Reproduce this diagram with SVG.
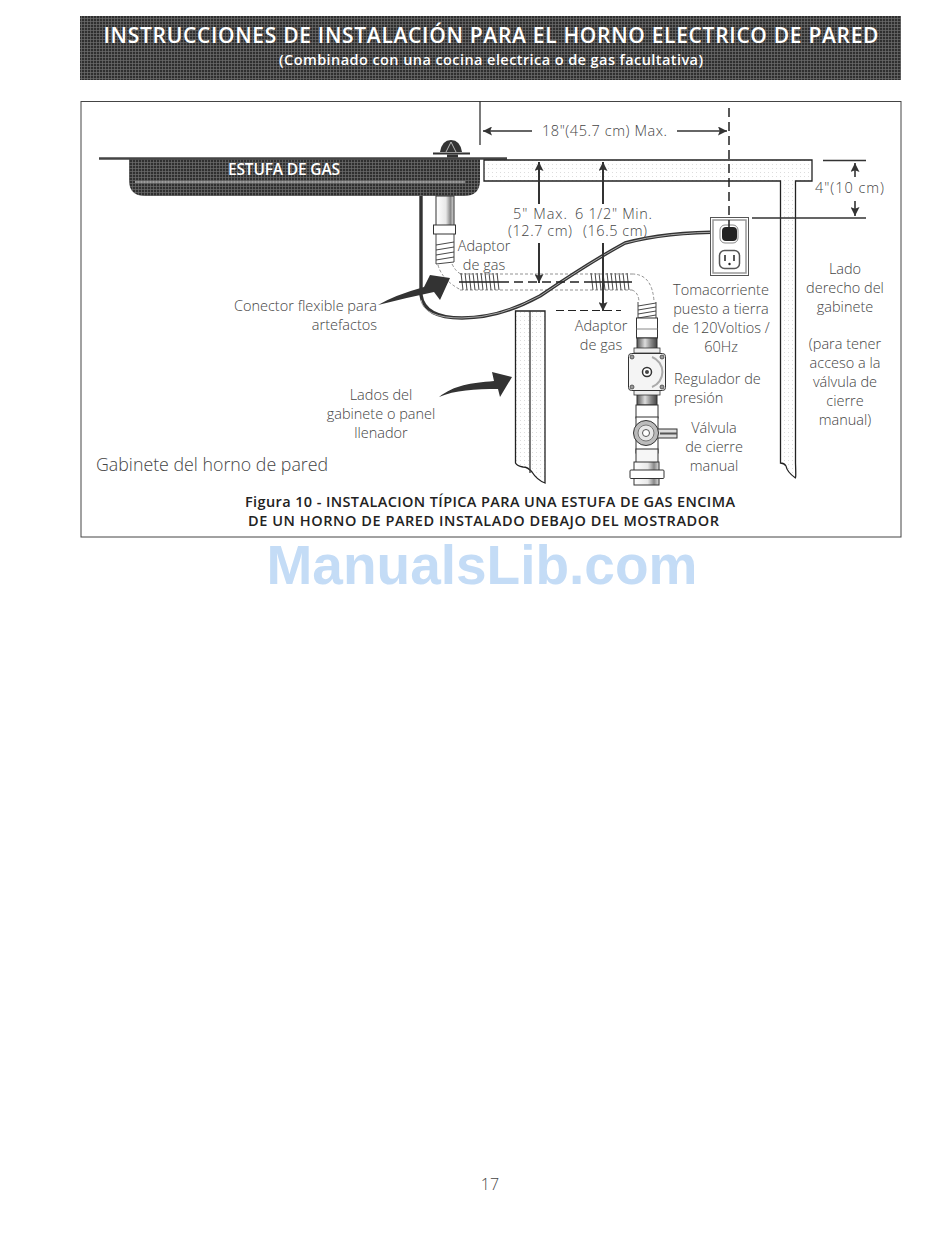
<svg xmlns="http://www.w3.org/2000/svg" width="950" height="1234" viewBox="0 0 950 1234">
<style>
text{font-family:"Open Sans","Noto Sans","Liberation Sans",sans-serif;font-weight:300;fill:#444;font-size:14.5px}
.m{text-anchor:middle}.e{text-anchor:end}
.b{font-weight:600;fill:#222}
.w{font-weight:600;fill:#fff}
.ln{fill:none;stroke:#333;stroke-width:1.3}
.th{fill:none;stroke:#333;stroke-width:.9}
.dim{fill:none;stroke:#333;stroke-width:1.6}
.dim2{fill:none;stroke:#333;stroke-width:2}
.dash{fill:none;stroke:#222;stroke-width:1.5;stroke-dasharray:9 5}
.thin{fill:none;stroke:#777;stroke-width:.8;stroke-dasharray:3 2}
.cab{fill:url(#dots);stroke:#222;stroke-width:1.3}
.bolt{fill:#999;stroke:#333;stroke-width:.7}
</style>
<defs>
<pattern id="grid" width="3" height="3" patternUnits="userSpaceOnUse"><rect width="3" height="3" fill="#2f2f2f"/><path d="M0 .5H3M.5 0V3" stroke="#6e6e6e" stroke-width=".7"/></pattern>
<pattern id="dots" width="4" height="4" patternUnits="userSpaceOnUse"><rect width="4" height="4" fill="#fff"/><rect width="1" height="1" fill="#ddd"/></pattern>
<linearGradient id="metal" x1="0" x2="1" y1="0" y2="0"><stop offset="0" stop-color="#fff"/><stop offset=".55" stop-color="#e8e8e8"/><stop offset=".8" stop-color="#888"/><stop offset="1" stop-color="#ddd"/></linearGradient>
<linearGradient id="metal2" x1="0" x2="1" y1="0" y2="0"><stop offset="0" stop-color="#555"/><stop offset=".4" stop-color="#ddd"/><stop offset=".7" stop-color="#888"/><stop offset="1" stop-color="#444"/></linearGradient>
<marker id="ah" viewBox="0 0 10 10" refX="10" refY="5" markerWidth="11" markerHeight="9" markerUnits="userSpaceOnUse" orient="auto"><path d="M0 0L10 5L0 10L2 5Z" fill="#333"/></marker>
</defs>
<rect width="950" height="1234" fill="#fff"/>

<g id="header">
<rect x="80" y="16" width="821" height="64" fill="url(#grid)"/>
<text class="w" x="491" y="43" text-anchor="middle" style="font-size:21px" textLength="775" lengthAdjust="spacing">INSTRUCCIONES DE INSTALACIÓN PARA EL HORNO ELECTRICO DE PARED</text>
<text class="w" x="491" y="65" text-anchor="middle" style="font-size:14.5px" textLength="424" lengthAdjust="spacing">(Combinado con una cocina electrica o de gas facultativa)</text>
</g>
<rect id="frame" x="81" y="101.5" width="820" height="435.5" fill="#fff" stroke="#444" stroke-width="1"/>

<g id="stove">
<path d="M129 158V180Q129 196 145 196H464Q480 196 480 180V158Z" fill="url(#grid)"/>
<path d="M99 158.500H507" stroke="#444" stroke-width="2.500" fill="none"/>
<path d="M135 182H465" stroke="#ddd" stroke-width="1.200"/>
<path d="M440 152Q442 140 451 140Q460 140 462 152Z" fill="#333"/>
<path d="M451 142L446 152M451 142L456 152" stroke="#ddd" stroke-width=".8"/>
<path d="M433 153.500H470" stroke="#333" stroke-width="2"/>
<path d="M447 156H458" stroke="#333" stroke-width="3"/>
<text class="w" x="284" y="175" text-anchor="middle" style="font-size:15.500px" textLength="112" lengthAdjust="spacing">ESTUFA DE GAS</text>
</g>

<g id="counter">
<path class="cab" d="M484 160H812V181H795.500V463Q796 478 795.500 478Q787 472 786 466Q784 463 780.500 463V181H484Z"/>
</g>

<g id="cabinet-side">
<path class="cab" d="M515.500 311H545V483Q537 480 532 472Q528 467 523 467Q517 466 515.500 463Z"/>
<path class="ln" d="M530 311V473"/>
</g>

<g id="gas-supply">
<rect x="436" y="196" width="18" height="30" fill="url(#metal)" stroke="#333"/>
<rect x="433.500" y="225" width="22" height="9" fill="#fff" stroke="#333"/>
<path class="th" d="M436 234V264M454 234V262M436 245L454 242M436 250L454 247M436 255L454 252M436 260L454 257M436 264L454 262"/>
<path class="thin" d="M438 265Q442 280 461 290M452 264Q456 272 461 274M632 274Q652 274 654 301M632 290Q638 292 639 301"/>
<path class="thin" d="M460 274H632M460 290H632"/>
<path class="th" d="M461 273L463 290M465 273L467 290M469 273L471 290M473 273L475 290M477 273L479 290M481 273L483 290M485 273L487 290M489 273L491 290M493 273L495 290M497 273L499 290M591 273L593 290M595 273L597 290M599 273L601 290M603 273L605 290M607 273L609 290M611 273L613 290M615 273L617 290M619 273L621 290M623 273L625 290M627 273L629 290"/>
<path d="M459 282H500M590 282H632" stroke="#222" stroke-width="1.500"/>
<path class="th" d="M638 302V319M656 302V319M638 306L656 303M638 310L656 307M638 314L656 311M638 318L656 315"/>
<rect x="636.500" y="318" width="21" height="20" fill="#fff" stroke="#333"/>
<path d="M636.500 329H657.500" stroke="#888"/>
</g>

<g id="flex-connector">
<path d="M421 196V295Q424 318 462 318Q500 318 540 296Q590 262 625 243Q665 232 726 232" fill="none" stroke="#333" stroke-width="3.400"/>
<path d="M421 300Q424 318 462 318Q500 318 540 296Q590 262 625 243Q665 232 726 232" fill="none" stroke="#aaa" stroke-width="1"/>
</g>

<g id="outlet">
<rect x="710.500" y="217.500" width="38" height="58" fill="#fff" stroke="#555"/>
<rect x="713" y="220" width="33" height="53" fill="#fff" stroke="#999" stroke-width="1.500"/>
<rect x="720" y="225" width="18" height="18" rx="5" fill="#fff" stroke="#888"/>
<rect x="722" y="227" width="15" height="14" rx="4" fill="#222"/>
<rect x="719.500" y="250.500" width="20" height="18" rx="5" fill="#fff" stroke="#555" stroke-width="1.500"/>
<path d="M725 255V261M734 255V261" stroke="#222" stroke-width="1.500"/><circle cx="729.500" cy="264" r="1.200" fill="#222"/>
</g>

<g id="regulator">
<rect x="637" y="338" width="20" height="15" fill="url(#metal2)" stroke="#333"/>
<rect x="637" y="390" width="20" height="15" fill="url(#metal2)" stroke="#333"/>
<rect x="634" y="348" width="26" height="5" fill="#eee" stroke="#333" stroke-width=".8"/>
<rect x="634" y="390" width="26" height="5" fill="#eee" stroke="#333" stroke-width=".8"/>
<rect x="628.500" y="353.500" width="37" height="37" rx="3" fill="#f4f4f4" stroke="#333"/>
<path d="M652 357A16 16 0 0 1 652 387" fill="none" stroke="#aaa" stroke-width="2"/>
<circle cx="647" cy="372" r="4.500" fill="#fff" stroke="#333" stroke-width="1.500"/><circle cx="647" cy="372" r="2" fill="#444"/>
<circle class="bolt" cx="632" cy="357" r="2"/><circle class="bolt" cx="662" cy="357" r="2"/><circle class="bolt" cx="632" cy="387" r="2"/><circle class="bolt" cx="662" cy="387" r="2"/>
</g>

<g id="valve">
<rect x="636" y="405" width="22" height="13" fill="#fff" stroke="#333"/>
<rect x="636" y="417" width="22" height="36" fill="#fff" stroke="#333"/>
<rect x="636" y="449" width="22" height="14" fill="#f6f6f6" stroke="#333"/>
<rect x="656" y="429" width="21" height="9" fill="#ddd" stroke="#333"/>
<path d="M677 433.500H660" stroke="#555" stroke-width="2"/>
<circle cx="646" cy="433" r="12.500" fill="#bbb" stroke="#333"/>
<circle cx="646" cy="433" r="8" fill="#e8e8e8" stroke="#777"/>
<circle cx="646" cy="433" r="3.500" fill="#fff" stroke="#555"/>
<rect x="634" y="462" width="25" height="23" fill="url(#metal)" stroke="#333"/>
<rect x="630" y="470" width="34" height="8.500" rx="1" fill="#fff" stroke="#333"/>
</g>

<g id="connectors">
<path class="ln" d="M480 101V145"/>
<path class="dash" d="M729 108V228"/>
<path class="dim" marker-end="url(#ah)" d="M532 131H483"/>
<path class="dim" marker-end="url(#ah)" d="M677 131H727"/>
<path class="dim2" marker-end="url(#ah)" d="M539 204V162"/>
<path class="dim2" marker-end="url(#ah)" d="M603 204V162"/>
<path class="dim2" marker-end="url(#ah)" d="M539 243V283"/>
<path class="dim2" marker-end="url(#ah)" d="M603 243V311"/>
<path class="dash" d="M500 282H590"/>
<path class="dash" style="stroke-width:1.200;stroke-dasharray:8 4" d="M556 310.500H621"/>
<path class="ln" d="M823 160.500H866M752 218H866"/>
<path class="dim" marker-end="url(#ah)" d="M855 177V163"/>
<path class="dim" marker-end="url(#ah)" d="M855 201V216"/>
<path fill="#333" d="M378 305Q395 295 424 287L430 275L450 278L440 300L434 292Q405 298 378 305Z"/>
<path fill="#333" d="M439 397C455 385 470 383 494 381L492 372L512 377L500 397L498 389C475 389 455 390 439 397Z"/>
</g>

<g id="labels">
<text x="542" y="136" textLength="125" lengthAdjust="spacing">18"(45.7 cm) Max.</text>
<text x="815" y="193" textLength="69" lengthAdjust="spacing">4"(10 cm)</text>
<text x="513" y="219" textLength="54" lengthAdjust="spacing">5"  Max.</text><text x="575" y="219" textLength="77" lengthAdjust="spacing">6 1/2"  Min.</text>
<text x="508" y="236" textLength="64" lengthAdjust="spacing">(12.7 cm)</text><text x="583" y="236" textLength="64" lengthAdjust="spacing">(16.5 cm)</text>
<text class="m" x="484" y="251">Adaptor</text><text class="m" x="484" y="270">de gas</text>
<text class="m" x="601" y="331">Adaptor</text><text class="m" x="601" y="350">de gas</text>
<text class="e" x="377" y="311">Conector flexible para</text><text class="e" x="377" y="330">artefactos</text>
<text class="m" x="381" y="400">Lados del</text><text class="m" x="381" y="419">gabinete o panel</text><text class="m" x="381" y="438">llenador</text>
<text x="96" y="471" style="font-size:17.800px">Gabinete del horno de pared</text>
<text class="m" x="721" y="295">Tomacorriente</text><text class="m" x="721" y="314">puesto a tierra</text><text class="m" x="721" y="333">de 120Voltios /</text><text class="m" x="721" y="352">60Hz</text>
<text x="674" y="384">Regulador de</text><text x="674" y="403">presión</text>
<text class="m" x="714" y="433">Válvula</text><text class="m" x="714" y="452">de cierre</text><text class="m" x="714" y="471">manual</text>
<text class="m" x="845" y="274">Lado</text><text class="m" x="845" y="293">derecho del</text><text class="m" x="845" y="312">gabinete</text>
<text class="m" x="845" y="349">(para tener</text><text class="m" x="845" y="368">acceso a la</text><text class="m" x="845" y="387">válvula de</text><text class="m" x="845" y="406">cierre</text><text class="m" x="845" y="425">manual)</text>
<text class="b" x="245" y="507" style="font-size:14.500px" textLength="490" lengthAdjust="spacing">Figura 10 -  INSTALACION TÍPICA PARA UNA ESTUFA DE GAS ENCIMA</text>
<text class="b" x="248" y="526" style="font-size:14.500px" textLength="471" lengthAdjust="spacing">DE UN HORNO DE PARED INSTALADO DEBAJO DEL MOSTRADOR</text>
</g>
<text id="watermark" x="482" y="584" text-anchor="middle" style="font-family:'Liberation Sans',sans-serif;font-weight:700;font-size:55px;fill:#c4dcf6">ManualsLib.com</text>
<text id="page" x="490" y="1190" text-anchor="middle" style="font-size:16px">17</text>
</svg>
